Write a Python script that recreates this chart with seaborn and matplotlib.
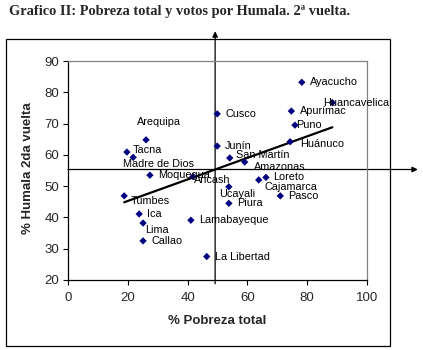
import numpy as np
import pandas as pd
import matplotlib
matplotlib.use("Agg")
import matplotlib.pyplot as plt
from matplotlib.patches import Rectangle
import seaborn as sns

# Departamentos: % de pobreza total y % de votos por Humala en la 2da vuelta
regiones = ["Ayacucho", "Huancavelica", "Apurímac", "Puno", "Huánuco",
            "Cusco", "Junín", "San Martín", "Amazonas", "Loreto", "Cajamarca",
            "Ancash", "Ucayali", "Piura", "Pasco", "Lamabayeque", "La Libertad",
            "Moquegua", "Tumbes", "Ica", "Lima", "Callao",
            "Arequipa", "Tacna", "Madre de Dios"]
pobreza = [78.2, 88.4, 74.7, 75.9, 74.3,
           49.9, 49.9, 54.1, 59.1, 66.2, 63.8,
           41.8, 53.8, 53.8, 71.0, 41.1, 46.4,
           27.4, 18.8, 23.8, 25.1, 25.1,
           26.1, 19.7, 21.8]
humala = [83.2, 76.7, 74.0, 69.5, 64.2,
          73.1, 62.8, 59.0, 57.7, 52.8, 52.0,
          53.1, 49.8, 44.5, 46.9, 39.1, 27.5,
          53.5, 46.9, 41.1, 38.2, 32.5,
          64.8, 60.9, 59.2]

x_ticks = [0, 20, 40, 60, 80, 100]
y_ticks = [20, 30, 40, 50, 60, 70, 80, 90]

# label offsets in pixels (dx to the text's left edge, dy downward)
offsets = {
    "Ayacucho": (8, 0), "Huancavelica": (-9, 0), "Apurímac": (9, 0),
    "Puno": (1, 0), "Huánuco": (10, 2), "Cusco": (8, 0), "Junín": (8, 0),
    "San Martín": (6, -3), "Amazonas": (9, 5), "Loreto": (7, 0),
    "Cajamarca": (6, 7), "Ancash": (1, 4), "Ucayali": (-10, 7),
    "Piura": (8, 0), "Pasco": (8, 0), "Lamabayeque": (8, 0),
    "La Libertad": (8, 0), "Moquegua": (8, 0), "Tumbes": (6, 5),
    "Ica": (8, 0), "Lima": (2, 7), "Callao": (8, 0),
    "Arequipa": (-9, -18), "Tacna": (6, -2), "Madre de Dios": (-10, 7),
}

df = pd.DataFrame({"region": regiones, "pobreza": pobreza, "humala": humala})

sns.set_theme(style="white")
plt.rcParams["font.family"] = ["Liberation Sans", "DejaVu Sans"]

W, H = 423, 350
fig = plt.figure(figsize=(W / 100, H / 100), dpi=100)
fig.patch.set_facecolor("white")
ax = fig.add_axes([68 / W, 70 / H, 299 / W, 219 / H])

# outer chart frame
fig.patches.append(Rectangle((6 / W, 4 / H), 384 / W, 307 / H,
                             transform=fig.transFigure, fill=False,
                             edgecolor="black", lw=0.9))

# crosshair through the averages
mx = np.mean(pobreza)
my = np.mean(humala)
arrow = dict(arrowstyle="-|>", color="black", lw=0.9, mutation_scale=8,
             shrinkA=0, shrinkB=0)
ax.annotate("", xy=(mx, 99.5), xytext=(mx, 18.8), arrowprops=arrow,
            annotation_clip=False, zorder=1)
ax.annotate("", xy=(117, my), xytext=(0, my), arrowprops=arrow,
            annotation_clip=False, zorder=1)

sns.regplot(data=df, x="pobreza", y="humala", scatter=False, ci=None,
            truncate=True, color="black", line_kws=dict(lw=1.6, zorder=2), ax=ax)
sns.scatterplot(data=df, x="pobreza", y="humala", marker="D", s=14,
                color="#000080", edgecolor="none", ax=ax, zorder=3)

for reg, px, py in zip(regiones, pobreza, humala):
    dx, dy = offsets[reg]
    ax.annotate(reg, (px, py), xytext=(dx * 0.72, -dy * 0.72),
                textcoords="offset points", ha="left", va="center",
                fontsize=7.8, color="black", zorder=4, annotation_clip=False)

ax.set_xlim(0, 100)
ax.set_ylim(20, 90)
ax.set_xticks(x_ticks)
ax.set_yticks(y_ticks)
ax.tick_params(axis="both", which="major", direction="out", length=3.5,
               width=0.8, color="black", labelsize=9.5, pad=3, bottom=True, left=True)
ax.tick_params(axis="x", pad=5)

for side in ("top", "right"):
    ax.spines[side].set_color("#808080")
    ax.spines[side].set_linewidth(0.9)
for side in ("left", "bottom"):
    ax.spines[side].set_color("black")
    ax.spines[side].set_linewidth(0.9)

ax.set_xlabel("% Pobreza total", fontsize=9.5, fontweight="bold")
ax.set_ylabel("% Humala 2da vuelta", fontsize=9.5, fontweight="bold")
ax.xaxis.set_label_coords(0.5, (280 - 315) / 219)
ax.yaxis.set_label_coords((34 - 68) / 299, (280 - 168) / 219)

fig.text(9 / W, 1 - 12 / H, "Grafico II: Pobreza total y votos por Humala. 2ª vuelta.",
         fontfamily="Liberation Serif", fontweight="bold", fontsize=10.4,
         ha="left", va="center")

fig.savefig("out.png", dpi=100, facecolor="white")
